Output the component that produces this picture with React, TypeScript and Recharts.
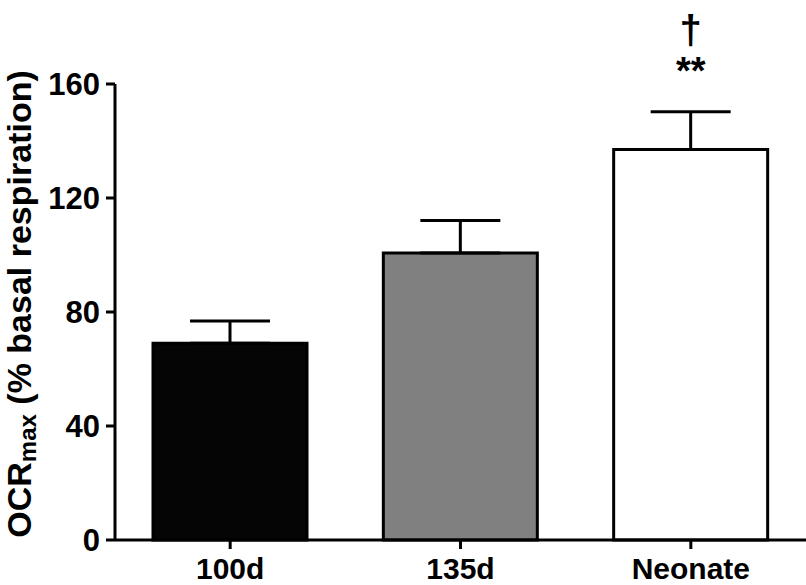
import { BarChart, Bar, XAxis, YAxis, ErrorBar, Cell, LabelList, Label } from "recharts";

const categories = ["100d", "135d", "Neonate"];
const means = [69, 100.7, 137];
const sem = [7.8, 11.4, 13.3];
const fills = ["#050505", "#808080", "#ffffff"];
const stars = ["", "", "**"];
const daggers = ["", "", "†"];
const yTicks = [0, 40, 80, 120, 160];

const data = categories.map((name, i) => ({
  name,
  value: means[i],
  err: [0, sem[i]],
  stars: stars[i],
  dagger: daggers[i],
}));

const font = "Arial, 'Liberation Sans', sans-serif";

function SigLabel(props: any) {
  const { x, y, width, height, index } = props;
  const row = data[index];
  if (!row || !row.stars) return null;
  const pxPerUnit = height / row.value;
  const top = y - row.err[1] * pxPerUnit;
  const cx = x + width / 2;
  return (
    <g>
      <text x={cx} y={top - 28} textAnchor="middle" fontSize={38} fontWeight="bold" fontFamily={font} fill="#000">
        {row.stars}
      </text>
      <text x={cx} y={top - 68} textAnchor="middle" fontSize={40} fontWeight="bold" fontFamily={font} fill="#000">
        {row.dagger}
      </text>
    </g>
  );
}

function YTitle(props: any) {
  const { viewBox } = props;
  const cy = viewBox.y + viewBox.height / 2 - 8;
  const cx = 19;
  return (
    <text
      x={cx}
      y={cy}
      transform={`rotate(-90, ${cx}, ${cy})`}
      textAnchor="middle"
      dominantBaseline="central"
      fontSize={34}
      fontWeight="bold"
      fontFamily={font}
      fill="#000"
    >
      OCR
      <tspan fontSize={24} dy={8}>max</tspan>
      <tspan dy={-8}> (% basal respiration)</tspan>
    </text>
  );
}

export default function App() {
  return (
    <div style={{ position: "absolute", left: 0, top: 0, background: "#fff" }}>
      <BarChart
        width={806}
        height={585}
        data={data}
        margin={{ top: 84, right: 0, bottom: 0, left: 0 }}
        barSize={154}
      >
        <XAxis
          dataKey="name"
          height={45}
          axisLine={{ stroke: "#000", strokeWidth: 3 }}
          tickLine={{ stroke: "#000", strokeWidth: 3 }}
          tickSize={9}
          tickMargin={9}
          tick={{ fill: "#000", fontSize: 30, fontWeight: "bold", fontFamily: font }}
        />
        <YAxis
          width={115}
          domain={[0, 160]}
          ticks={yTicks}
          interval={0}
          axisLine={{ stroke: "#000", strokeWidth: 3 }}
          tickLine={{ stroke: "#000", strokeWidth: 3 }}
          tickSize={9}
          tickMargin={6}
          tick={{ fill: "#000", fontSize: 31, fontWeight: "bold", fontFamily: font }}
        >
          <Label content={<YTitle />} />
        </YAxis>
        <Bar dataKey="value" stroke="#000" strokeWidth={3} isAnimationActive={false}>
          {data.map((d, i) => (
            <Cell key={d.name} fill={fills[i]} />
          ))}
          <ErrorBar dataKey="err" width={40} stroke="#000" strokeWidth={3} direction="y" />
          <LabelList dataKey="stars" content={<SigLabel />} />
        </Bar>
      </BarChart>
    </div>
  );
}
